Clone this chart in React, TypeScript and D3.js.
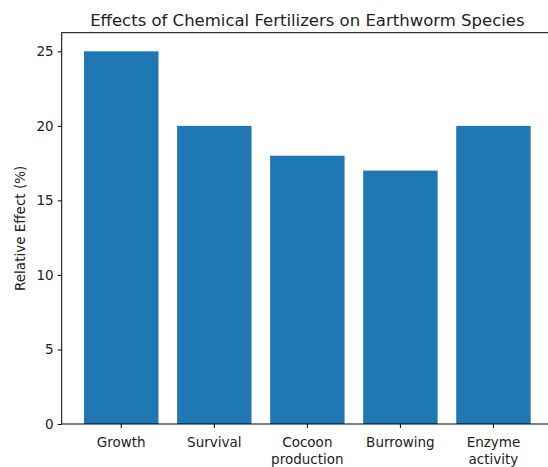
import { useEffect, useRef } from "react";
import * as d3 from "d3";

const categories = ["Growth", "Survival", "Cocoon\nproduction", "Burrowing", "Enzyme\nactivity"];
const values = [25, 20, 18, 17, 20];
const yTicks = [0, 5, 10, 15, 20, 25];

const WIDTH = 548;
const HEIGHT = 467;

export default function App() {
  const svgRef = useRef<SVGSVGElement>(null);

  useEffect(() => {
    if (!svgRef.current) return;
    const svg = d3.select(svgRef.current);
    svg.selectAll("*").remove();

    const margin = { top: 32.7, left: 61.7, right: 553, bottom: 424 };
    const font = "DejaVu Sans, sans-serif";

    const x = d3
      .scaleBand<string>()
      .domain(categories)
      .range([margin.left, margin.right])
      .paddingInner(0.2)
      .paddingOuter(0.24);

    const y = d3
      .scaleLinear()
      .domain([0, 25 * 1.05])
      .range([margin.bottom, margin.top]);

    // Bars
    svg
      .append("g")
      .selectAll("rect")
      .data(values)
      .join("rect")
      .attr("x", (_, i) => x(categories[i]) as number)
      .attr("y", (d) => y(d))
      .attr("width", x.bandwidth())
      .attr("height", (d) => y(0) - y(d))
      .attr("fill", "#1f77b4");

    // Spines
    svg
      .append("rect")
      .attr("x", margin.left)
      .attr("y", margin.top)
      .attr("width", margin.right - margin.left)
      .attr("height", margin.bottom - margin.top)
      .attr("fill", "none")
      .attr("stroke", "#000")
      .attr("stroke-width", 1);

    // Y axis
    const yAxis = svg
      .append("g")
      .attr("transform", `translate(${margin.left},0)`)
      .call(d3.axisLeft(y).tickValues(yTicks).tickSize(4).tickPadding(4));
    yAxis.select(".domain").remove();
    yAxis
      .selectAll("text")
      .attr("font-family", font)
      .attr("font-size", "13.5px")
      .attr("fill", "#222");

    // X axis
    const xAxis = svg
      .append("g")
      .attr("transform", `translate(0,${margin.bottom})`)
      .call(d3.axisBottom(x).tickSize(4).tickFormat(() => ""));
    xAxis.select(".domain").remove();

    xAxis
      .selectAll<SVGGElement, string>(".tick")
      .each(function (d) {
        const lines = d.split("\n");
        const t = d3
          .select(this)
          .append("text")
          .attr("font-family", font)
          .attr("font-size", "13.5px")
          .attr("fill", "#222")
          .attr("text-anchor", "middle");
        lines.forEach((l, i) => {
          t.append("tspan")
            .attr("x", 0)
            .attr("y", 22.5 + i * 17)
            .text(l);
        });
      });

    // Title
    svg
      .append("text")
      .attr("x", (margin.left + margin.right) / 2)
      .attr("y", margin.top - 7)
      .attr("text-anchor", "middle")
      .attr("font-family", font)
      .attr("font-size", "16.5px")
      .attr("fill", "#222")
      .text("Effects of Chemical Fertilizers on Earthworm Species");

    // Y label
    svg
      .append("text")
      .attr("transform", `translate(25,${(margin.top + margin.bottom) / 2}) rotate(-90)`)
      .attr("text-anchor", "middle")
      .attr("font-family", font)
      .attr("font-size", "13.5px")
      .attr("fill", "#222")
      .text("Relative Effect (%)");
  }, []);

  return (
    <svg
      ref={svgRef}
      width={WIDTH}
      height={HEIGHT}
      style={{ position: "absolute", left: 0, top: 0, background: "#fff" }}
    />
  );
}
